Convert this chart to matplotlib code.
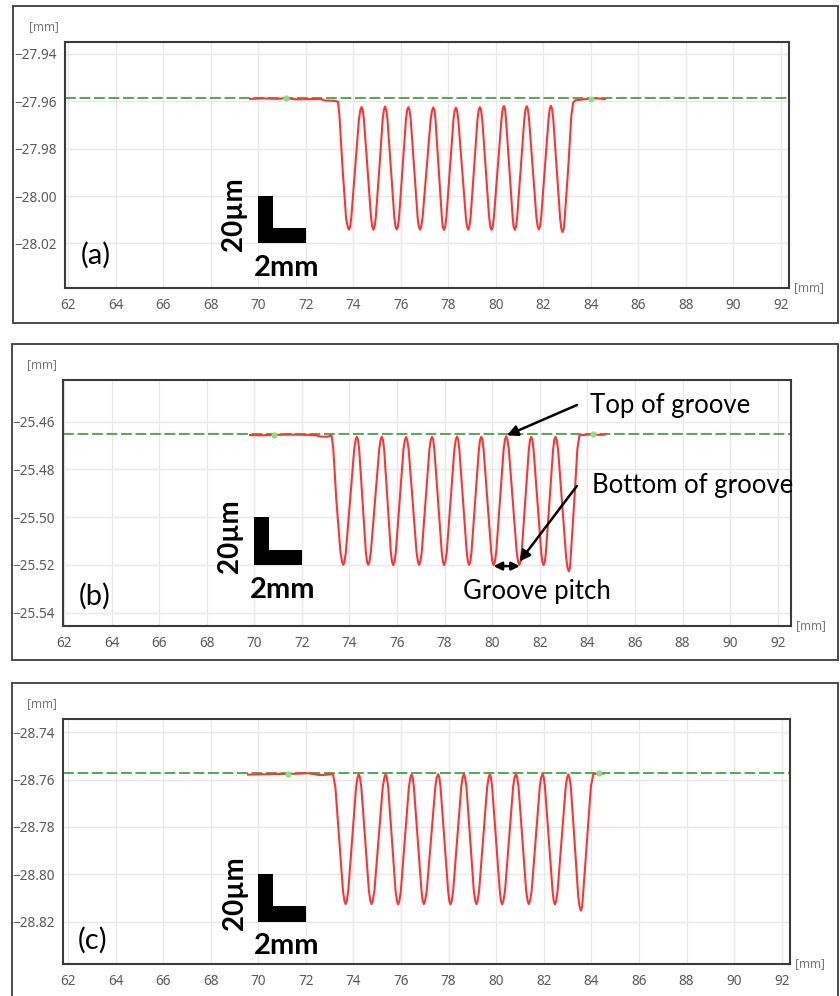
import matplotlib.pyplot as plt
from matplotlib.patches import Rectangle
import numpy as np

plt.rcParams['font.family'] = ['Noto Sans', 'DejaVu Sans']

# ---- data (x [mm], height [mm]) ----
profile_a = [
    (69.66, -27.9590), (70.20, -27.9588), (70.80, -27.9590), (71.16, -27.9587),
    (71.60, -27.9592), (72.10, -27.9591), (72.60, -27.9590), (72.80, -27.9597),
    (73.20, -27.9598), (73.36, -27.9602),
    (73.42, -27.9660), (73.55, -27.9880), (73.70, -28.0095), (73.77, -28.0130), (73.82, -28.0142),
    (73.87, -28.0129), (73.92, -28.0090), (74.08, -27.9883), (74.24, -27.9676), (74.30, -27.9637), (74.35, -27.9624),
    (74.40, -27.9637), (74.45, -27.9676), (74.60, -27.9883), (74.75, -28.0090), (74.80, -28.0129), (74.85, -28.0142),
    (74.90, -28.0129), (74.95, -28.0090), (75.10, -27.9883), (75.24, -27.9676), (75.29, -27.9637), (75.34, -27.9622),
    (75.39, -27.9637), (75.44, -27.9676), (75.585, -27.9883), (75.73, -28.0090), (75.78, -28.0129), (75.83, -28.0141),
    (75.88, -28.0129), (75.93, -28.0090), (76.075, -27.9883), (76.22, -27.9676), (76.27, -27.9637), (76.32, -27.9625),
    (76.37, -27.9637), (76.42, -27.9676), (76.565, -27.9883), (76.71, -28.0090), (76.76, -28.0129), (76.81, -28.0142),
    (76.86, -28.0129), (76.92, -28.0090), (77.09, -27.9883), (77.26, -27.9676), (77.32, -27.9638), (77.37, -27.9626),
    (77.42, -27.9638), (77.46, -27.9676), (77.595, -27.9883), (77.73, -28.0090), (77.77, -28.0130), (77.82, -28.0143),
    (77.87, -28.0130), (77.92, -28.0090), (78.07, -27.9883), (78.22, -27.9676), (78.27, -27.9639), (78.32, -27.9627),
    (78.37, -27.9639), (78.42, -27.9676), (78.58, -27.9883), (78.74, -28.0090), (78.79, -28.0129), (78.84, -28.0142),
    (78.89, -28.0129), (78.94, -28.0090), (79.085, -27.9883), (79.23, -27.9676), (79.28, -27.9637), (79.33, -27.9625),
    (79.38, -27.9637), (79.43, -27.9676), (79.575, -27.9883), (79.72, -28.0090), (79.77, -28.0130), (79.82, -28.0143),
    (79.87, -28.0130), (79.92, -28.0090), (80.08, -27.9883), (80.24, -27.9676), (80.29, -27.9633), (80.34, -27.9620),
    (80.39, -27.9633), (80.43, -27.9676), (80.57, -27.9883), (80.71, -28.0090), (80.75, -28.0129), (80.80, -28.0142),
    (80.85, -28.0129), (80.90, -28.0090), (81.05, -27.9883), (81.20, -27.9676), (81.25, -27.9634), (81.30, -27.9621),
    (81.35, -27.9634), (81.40, -27.9676), (81.555, -27.9883), (81.71, -28.0090), (81.76, -28.0128), (81.81, -28.0141),
    (81.86, -28.0128), (81.91, -28.0090), (82.065, -27.9883), (82.22, -27.9676), (82.27, -27.9632), (82.32, -27.9619),
    (82.37, -27.9632), (82.42, -27.9676), (82.565, -27.9887), (82.71, -28.0098), (82.76, -28.0139), (82.81, -28.0152),
    (82.86, -28.0139), (82.90, -28.0095), (83.05, -27.9880), (83.18, -27.9660), (83.26, -27.9605), (83.35, -27.9596),
    (83.60, -27.9593), (84.00, -27.9589), (84.30, -27.9588), (84.59, -27.9591),
]

profile_b = [
    (69.82, -25.4656), (70.30, -25.4657), (70.83, -25.4655), (71.30, -25.4654),
    (71.80, -25.4654), (72.30, -25.4655), (72.62, -25.4657), (72.75, -25.4662),
    (73.05, -25.4663), (73.25, -25.4658),
    (73.32, -25.4712), (73.45, -25.4930), (73.62, -25.5145), (73.69, -25.5187), (73.74, -25.5200),
    (73.79, -25.5187), (73.85, -25.5146), (74.025, -25.4932), (74.20, -25.4717), (74.26, -25.4676), (74.31, -25.4663),
    (74.36, -25.4676), (74.41, -25.4717), (74.55, -25.4932), (74.69, -25.5146), (74.74, -25.5187), (74.79, -25.5200),
    (74.84, -25.5187), (74.90, -25.5146), (75.075, -25.4932), (75.25, -25.4717), (75.31, -25.4676), (75.36, -25.4663),
    (75.41, -25.4676), (75.46, -25.4717), (75.60, -25.4932), (75.74, -25.5146), (75.79, -25.5188), (75.84, -25.5201),
    (75.89, -25.5188), (75.95, -25.5146), (76.11, -25.4932), (76.27, -25.4717), (76.33, -25.4677), (76.38, -25.4664),
    (76.43, -25.4677), (76.49, -25.4717), (76.655, -25.4932), (76.82, -25.5146), (76.88, -25.5187), (76.93, -25.5200),
    (76.98, -25.5187), (77.04, -25.5146), (77.20, -25.4932), (77.36, -25.4717), (77.42, -25.4676), (77.47, -25.4663),
    (77.52, -25.4676), (77.57, -25.4717), (77.725, -25.4932), (77.88, -25.5146), (77.93, -25.5188), (77.98, -25.5201),
    (78.03, -25.5188), (78.09, -25.5146), (78.25, -25.4932), (78.41, -25.4717), (78.47, -25.4675), (78.52, -25.4662),
    (78.57, -25.4675), (78.62, -25.4717), (78.775, -25.4932), (78.93, -25.5146), (78.98, -25.5187), (79.03, -25.5200),
    (79.08, -25.5187), (79.13, -25.5146), (79.285, -25.4932), (79.44, -25.4717), (79.49, -25.4676), (79.54, -25.4663),
    (79.59, -25.4676), (79.64, -25.4717), (79.80, -25.4932), (79.96, -25.5146), (80.01, -25.5188), (80.06, -25.5201),
    (80.11, -25.5188), (80.17, -25.5146), (80.325, -25.4932), (80.48, -25.4717), (80.54, -25.4674), (80.59, -25.4661),
    (80.64, -25.4674), (80.70, -25.4717), (80.865, -25.4932), (81.03, -25.5146), (81.09, -25.5187), (81.14, -25.5200),
    (81.19, -25.5187), (81.24, -25.5146), (81.39, -25.4932), (81.54, -25.4717), (81.59, -25.4676), (81.64, -25.4663),
    (81.69, -25.4676), (81.74, -25.4717), (81.90, -25.4932), (82.06, -25.5146), (82.11, -25.5188), (82.16, -25.5201),
    (82.21, -25.5188), (82.26, -25.5146), (82.41, -25.4932), (82.56, -25.4717), (82.61, -25.4676), (82.66, -25.4663),
    (82.71, -25.4676), (82.77, -25.4717), (82.94, -25.4945), (83.11, -25.5170), (83.17, -25.5213), (83.22, -25.5227),
    (83.27, -25.5213), (83.31, -25.5150), (83.45, -25.4935), (83.58, -25.4715), (83.67, -25.4657),
    (84.00, -25.4654), (84.23, -25.4653), (84.50, -25.4655), (84.75, -25.4654),
]

profile_c = [
    (69.57, -28.7579), (70.10, -28.7578), (70.60, -28.7577), (71.25, -28.7576),
    (71.70, -28.7575), (72.10, -28.7573), (72.40, -28.7578), (72.58, -28.7581),
    (72.90, -28.7579), (73.14, -28.7577),
    (73.24, -28.7632), (73.40, -28.7852), (73.56, -28.8071), (73.62, -28.8112), (73.67, -28.8126),
    (73.72, -28.8112), (73.78, -28.8071), (73.945, -28.7852), (74.11, -28.7632), (74.17, -28.7591), (74.22, -28.7577),
    (74.27, -28.7591), (74.33, -28.7632), (74.49, -28.7852), (74.65, -28.8071), (74.71, -28.8112), (74.76, -28.8126),
    (74.81, -28.8112), (74.88, -28.8071), (75.055, -28.7852), (75.23, -28.7632), (75.30, -28.7591), (75.35, -28.7577),
    (75.40, -28.7591), (75.46, -28.7632), (75.615, -28.7852), (75.77, -28.8071), (75.83, -28.8113), (75.88, -28.8127),
    (75.93, -28.8113), (75.99, -28.8071), (76.16, -28.7852), (76.33, -28.7632), (76.39, -28.7592), (76.44, -28.7578),
    (76.49, -28.7592), (76.54, -28.7632), (76.70, -28.7852), (76.86, -28.8071), (76.91, -28.8112), (76.96, -28.8126),
    (77.01, -28.8112), (77.08, -28.8071), (77.26, -28.7852), (77.44, -28.7632), (77.50, -28.7591), (77.56, -28.7577),
    (77.61, -28.7591), (77.66, -28.7632), (77.82, -28.7852), (77.98, -28.8071), (78.03, -28.8113), (78.08, -28.8127),
    (78.13, -28.8113), (78.19, -28.8071), (78.36, -28.7852), (78.53, -28.7632), (78.59, -28.7591), (78.64, -28.7577),
    (78.69, -28.7591), (78.75, -28.7632), (78.905, -28.7852), (79.06, -28.8071), (79.12, -28.8112), (79.17, -28.8126),
    (79.22, -28.8112), (79.28, -28.8071), (79.45, -28.7852), (79.62, -28.7632), (79.68, -28.7592), (79.73, -28.7578),
    (79.78, -28.7592), (79.83, -28.7632), (79.99, -28.7852), (80.15, -28.8071), (80.20, -28.8113), (80.25, -28.8127),
    (80.30, -28.8113), (80.37, -28.8071), (80.54, -28.7852), (80.71, -28.7632), (80.77, -28.7591), (80.83, -28.7577),
    (80.88, -28.7591), (80.94, -28.7632), (81.10, -28.7852), (81.26, -28.8071), (81.32, -28.8112), (81.37, -28.8126),
    (81.42, -28.8112), (81.49, -28.8071), (81.66, -28.7852), (81.83, -28.7632), (81.89, -28.7591), (81.95, -28.7577),
    (82.00, -28.7591), (82.05, -28.7632), (82.21, -28.7852), (82.37, -28.8071), (82.42, -28.8113), (82.47, -28.8127),
    (82.52, -28.8113), (82.58, -28.8071), (82.75, -28.7852), (82.92, -28.7632), (82.98, -28.7592), (83.03, -28.7578),
    (83.08, -28.7592), (83.14, -28.7632), (83.295, -28.7865), (83.45, -28.8095), (83.51, -28.8139), (83.56, -28.8153),
    (83.61, -28.8139), (83.66, -28.8075), (83.82, -28.7855), (83.98, -28.7630), (84.08, -28.7577),
    (84.33, -28.7573), (84.50, -28.7575),
]

ref_levels = [-27.9585, -25.4653, -28.7573]
ref_dots = [
    [(71.16, -27.9587), (84.00, -27.9589)],
    [(70.83, -25.4655), (84.23, -25.4653)],
    [(71.25, -28.7576), (84.33, -28.7573)],
]
yticks = [
    [-27.94, -27.96, -27.98, -28.00, -28.02],
    [-25.46, -25.48, -25.50, -25.52, -25.54],
    [-28.74, -28.76, -28.78, -28.80, -28.82],
]
xticks = list(range(62, 93, 2))
letters = ['(a)', '(b)', '(c)']

W, H = 840, 996

# pixel layout: axes box (x0, x1, y0, y1), outer frame, limits
panels = [
    dict(ax=(65, 789, 42, 288), frame=(13, 838, 6, 323),
         xlim=(61.87, 92.34), ylim=(-28.0388, -27.9350),
         bar_top=-28.00, letter_pos=(63.17, -28.025)),
    dict(ax=(63, 791, 380, 626), frame=(12, 838, 344, 660),
         xlim=(61.96, 92.56), ylim=(-25.5456, -25.4425),
         bar_top=-25.50, letter_pos=(63.30, -25.5333)),
    dict(ax=(63, 790, 719, 964), frame=(12, 838, 683, 1000),
         xlim=(61.79, 92.35), ylim=(-28.8379, -28.7344),
         bar_top=-28.80, letter_pos=(63.05, -28.8277)),
]
profiles = [profile_a, profile_b, profile_c]

fig = plt.figure(figsize=(W / 100, H / 100), dpi=100)

for i, p in enumerate(panels):
    x0, x1, y0, y1 = p['ax']
    ax = fig.add_axes([x0 / W, 1 - y1 / H, (x1 - x0) / W, (y1 - y0) / H])

    fx0, fx1, fy0, fy1 = p['frame']
    fig.add_artist(Rectangle((fx0 / W, 1 - fy1 / H), (fx1 - fx0) / W, (fy1 - fy0) / H,
                             transform=fig.transFigure, fill=False,
                             ec='#4a4a4a', lw=1.4))

    ax.set_xlim(*p['xlim'])
    ax.set_ylim(*p['ylim'])
    ax.set_xticks(xticks)
    ax.set_yticks(yticks[i])
    ax.set_xticklabels([str(t) for t in xticks])
    ax.set_yticklabels([('%.2f' % t).replace('-', '\u2212') for t in yticks[i]])
    ax.tick_params(length=0, labelsize=9.8, labelcolor='#5a5a5a')
    ax.tick_params(axis='x', pad=7)
    ax.tick_params(axis='y', pad=6)
    ax.grid(True, color='#e8e8e8', lw=1.0)
    ax.set_axisbelow(True)
    for s in ax.spines.values():
        s.set_color('#3a3a3a')
        s.set_linewidth(1.5)

    ax.axhline(ref_levels[i], color='#2f9e2f', lw=1.2, ls=(0, (6.5, 2.2)), zorder=2)
    xs, ys = np.array(profiles[i]).T
    ax.plot(xs, ys, color='#ff3333', lw=1.5, zorder=3, solid_joinstyle='round')
    dx, dy = np.array(ref_dots[i]).T
    ax.plot(dx, dy, 'o', ms=4.5, color='#7ee87e', mec='none', zorder=4)

    # scale bar: 20 um tall, 2 mm wide
    top = p['bar_top']
    ax.add_patch(Rectangle((70.0, top - 0.02), 0.62, 0.02, color='black', lw=0, zorder=5))
    ax.add_patch(Rectangle((70.0, top - 0.02), 2.0, 0.0064, color='black', lw=0, zorder=5))
    ax.text(69.0, top - 0.0078, '20\u00b5m', rotation=90, ha='center', va='center',
            fontsize=20, fontweight='bold', family=['Lato', 'DejaVu Sans'])
    ax.text(71.18, top - 0.0305, '2mm', ha='center', va='center',
            fontsize=21, fontweight='bold', family=['Lato', 'DejaVu Sans'])
    ax.text(*p['letter_pos'], letters[i], ha='center', va='center',
            fontsize=21, family=['Lato', 'DejaVu Sans'])

    ax.annotate('[mm]', xy=(0, 1), xycoords='axes fraction', xytext=(-15, 11),
                textcoords='offset points', ha='center', va='center',
                fontsize=8.5, color='#777777')
    ax.annotate('[mm]', xy=(1, 0), xycoords='axes fraction', xytext=(14, 0),
                textcoords='offset points', ha='center', va='center',
                fontsize=8.5, color='#777777')

    if i == 1:
        arrow = dict(arrowstyle='-|>', color='black', lw=1.8, mutation_scale=16,
                     shrinkA=0, shrinkB=0)
        ax.annotate('', xy=(80.62, -25.4657), xytext=(83.56, -25.4530), arrowprops=arrow)
        ax.text(84.12, -25.4530, 'Top of groove', ha='left', va='center',
                fontsize=18.5, family=['Lato', 'DejaVu Sans'])
        ax.annotate('', xy=(81.15, -25.5186), xytext=(83.56, -25.4869), arrowprops=arrow)
        ax.text(84.19, -25.4869, 'Bottom of groove', ha='left', va='center',
                fontsize=18.5, family=['Lato', 'DejaVu Sans'])
        ax.annotate('', xy=(81.16, -25.5205), xytext=(80.06, -25.5205),
                    arrowprops=dict(arrowstyle='<|-|>', color='black', lw=1.8,
                                    mutation_scale=12, shrinkA=0, shrinkB=0))
        ax.text(81.90, -25.5312, 'Groove pitch', ha='center', va='center',
                fontsize=18.5, family=['Lato', 'DejaVu Sans'])

fig.savefig('out.png', dpi=100)
